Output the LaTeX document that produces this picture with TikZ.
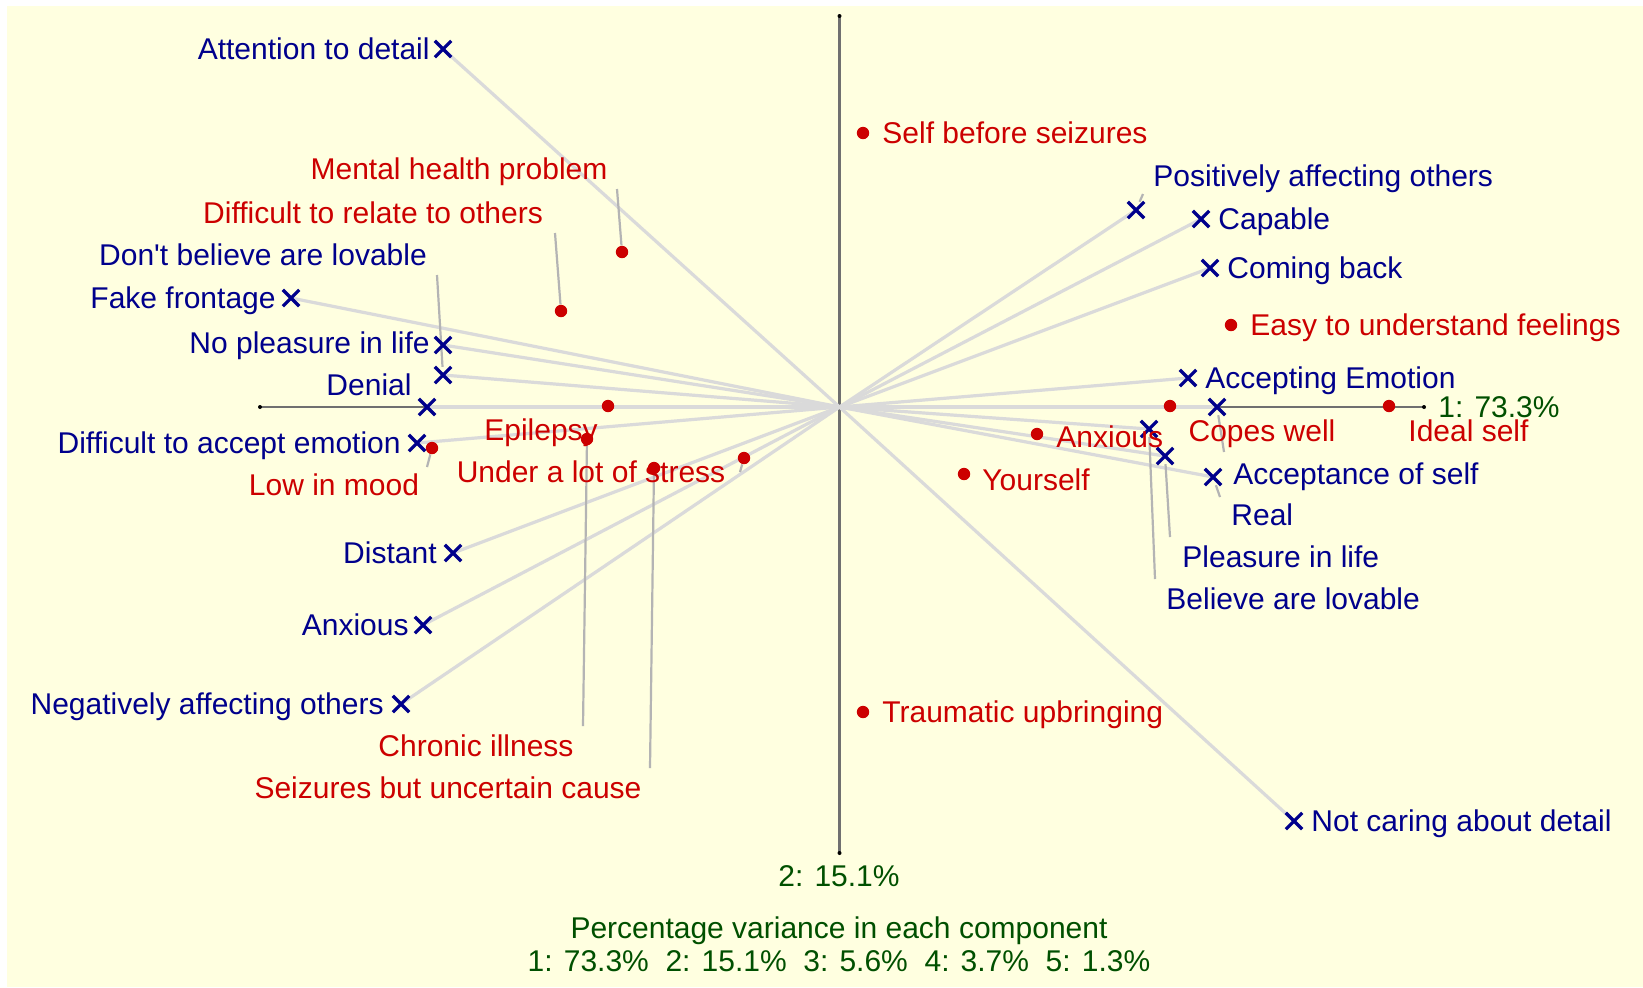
\documentclass[tikz,border=0pt]{standalone}
\usepackage{fontspec}
\setmainfont{Liberation Sans}[Ligatures={TeXOff,NoCommon}]
\usetikzlibrary{shapes.misc,backgrounds}

\definecolor{bgyellow}{RGB}{255,255,224}
\definecolor{conblue}{RGB}{0,0,140}
\definecolor{elred}{RGB}{204,0,0}
\definecolor{axgreen}{RGB}{0,80,0}
\definecolor{raygray}{RGB}{218,218,218}
\definecolor{leadgray}{RGB}{180,180,180}
\definecolor{axisgray}{RGB}{112,112,112}

\newcommand\lblfont{\fontsize{15}{18}\selectfont}

\tikzset{
  xmark/.style={cross out, draw=conblue, line width=1.6pt, minimum size=6.6pt, inner sep=0pt},
  dotmark/.style={circle, fill=elred, minimum size=6.2pt, inner sep=0pt},
  textbase/.style={inner sep=0pt, font=\lblfont, yshift=-2.8pt},
  conlabel/.style={textbase, text=conblue},
  ellabel/.style={textbase, text=elred},
  pctlabel/.style={textbase, text=axgreen},
  ray/.style={draw=raygray, line width=1.6pt},
  leader/.style={draw=leadgray, line width=1.1pt},
  axisline/.style={draw=axisgray, line width=1.3pt},
  axisend/.style={circle, fill=black, minimum size=2pt, inner sep=0pt},
}

\begin{document}
\begin{tikzpicture}[x=0.5pt, y=-0.5pt]
\useasboundingbox (0,0) rectangle (1643,987);

% origin and axis ends
\coordinate (O) at (839.5,407);
\node[axisend] (vtop) at (839.5,16) {};
\node[axisend] (vbot) at (839.5,853) {};
\node[axisend] (hleft) at (260,407) {};
\node[axisend] (hright) at (1424,407) {};

% constructs
\node[xmark] (attn) at (443,49) {};
\node[xmark] (fake) at (291,298) {};
\node[xmark] (nopl) at (443,345) {};
\node[xmark] (dbal) at (443,375) {};
\node[xmark] (deni) at (427,407) {};
\node[xmark] (dace) at (417,443) {};
\node[xmark] (dist) at (453,553) {};
\node[xmark] (anxc) at (423,625) {};
\node[xmark] (nego) at (401,704) {};
\node[xmark] (posi) at (1136,210) {};
\node[xmark] (capa) at (1201,219) {};
\node[xmark] (comb) at (1210,268) {};
\node[xmark] (acem) at (1188,378) {};
\node[xmark] (acse) at (1217,407) {};
\node[xmark] (real) at (1213,477) {};
\node[xmark] (bral) at (1149,429) {};
\node[xmark] (plif) at (1165,456) {};
\node[xmark] (ncad) at (1294,821) {};

% elements
\node[dotmark] (sbs) at (863,133) {};
\node[dotmark] (mhp) at (622,252) {};
\node[dotmark] (drel) at (561,311) {};
\node[dotmark] (eauf) at (1231,325) {};
\node[dotmark] (epil) at (608,406) {};
\node[dotmark] (chil) at (587,439) {};
\node[dotmark] (sbuc) at (654,468) {};
\node[dotmark] (ustr) at (744,458) {};
\node[dotmark] (lmood) at (432,448) {};
\node[dotmark] (copes) at (1170,406) {};
\node[dotmark] (ideal) at (1389,406) {};
\node[dotmark] (anxe) at (1037,434) {};
\node[dotmark] (yours) at (964,474) {};
\node[dotmark] (traum) at (863,712) {};

% free ends of the leader lines
\coordinate (dbalL) at (437,275);
\coordinate (posiL) at (1143,194);
\coordinate (acseL) at (1224,452);
\coordinate (realL) at (1220,497);
\coordinate (bralL) at (1155,579);
\coordinate (plifL) at (1170,537);
\coordinate (mhpL) at (617,189);
\coordinate (drelL) at (555,233);
\coordinate (chilL) at (583,726);
\coordinate (sbucL) at (650,768);
\coordinate (ustrL) at (740,472);
\coordinate (lmoodL) at (427,467);

% background, axes, construct rays and leaders
\begin{scope}[on background layer]
  \fill[bgyellow] (7,6) rectangle (1643,987);
  \draw[axisline] (vtop.center) -- (vbot.center);
  \draw[axisline] (hleft.center) -- (hright.center);
  \foreach \n in {attn,fake,nopl,dbal,deni,dace,dist,anxc,nego,posi,capa,comb,acem,acse,real,bral,plif,ncad}
    \draw[ray] (O) -- (\n.center);
  \draw[leader] (dbal) -- (dbalL);
  \draw[leader] (posi) -- (posiL);
  \draw[leader] (acse) -- (acseL);
  \draw[leader] (real) -- (realL);
  \draw[leader] (bral) -- (bralL);
  \draw[leader] (plif) -- (plifL);
  \draw[leader] (mhp) -- (mhpL);
  \draw[leader] (drel) -- (drelL);
  \draw[leader] (chil) -- (chilL);
  \draw[leader] (sbuc) -- (sbucL);
  \draw[leader] (ustr) -- (ustrL);
  \draw[leader] (lmood) -- (lmoodL);
\end{scope}

% construct labels
\node[conlabel, anchor=mid east] (attnT) at (430,49) {Attention to detail};
\node[conlabel, anchor=mid east] (fakeT) at (276,298) {Fake frontage};
\node[conlabel, anchor=mid east] (noplT) at (430,343) {No pleasure in life};
\node[conlabel, anchor=mid] (dbalT) at (263,255) {Don't believe are lovable};
\node[conlabel, anchor=mid] (deniT) at (369,385) {Denial};
\node[conlabel, anchor=mid east] (daceT) at (401,443) {Difficult to accept emotion};
\node[conlabel, anchor=mid east] (distT) at (437,553) {Distant};
\node[conlabel, anchor=mid east] (anxcT) at (409,625) {Anxious};
\node[conlabel, anchor=mid east] (negoT) at (384,704) {Negatively affecting others};
\node[conlabel, anchor=mid west] (posiT) at (1153,176) {Positively affecting others};
\node[conlabel, anchor=mid west] (capaT) at (1218,219) {Capable};
\node[conlabel, anchor=mid west] (combT) at (1227,268) {Coming back};
\node[conlabel, anchor=mid west] (acemT) at (1205,378) {Accepting Emotion};
\node[conlabel, anchor=mid west] (acseT) at (1233,474) {Acceptance of self};
\node[conlabel, anchor=mid west] (realT) at (1231,515) {Real};
\node[conlabel, anchor=mid west] (plifT) at (1182,557) {Pleasure in life};
\node[conlabel, anchor=mid west] (bralT) at (1166,599) {Believe are lovable};
\node[conlabel, anchor=mid west] (ncadT) at (1311,821) {Not caring about detail};

% element labels
\node[ellabel, anchor=mid west] (sbsT) at (882,133) {Self before seizures};
\node[ellabel, anchor=mid] (mhpT) at (459,169) {Mental health problem};
\node[ellabel, anchor=mid] (drelT) at (373,213) {Difficult to relate to others};
\node[ellabel, anchor=mid west] (eaufT) at (1250,325) {Easy to understand feelings};
\node[ellabel, anchor=mid] (epilT) at (541,430) {Epilepsy};
\node[ellabel, anchor=mid] (chilT) at (476,746) {Chronic illness};
\node[ellabel, anchor=mid] (sbucT) at (448,788) {Seizures but uncertain cause};
\node[ellabel, anchor=mid] (ustrT) at (591,472) {Under a lot of stress};
\node[ellabel, anchor=mid] (lmoodT) at (334,485) {Low in mood};
\node[ellabel, anchor=mid] (copesT) at (1262,431) {Copes well};
\node[ellabel, anchor=mid west] (idealT) at (1408,431) {Ideal self};
\node[ellabel, anchor=mid west] (anxeT) at (1056,437) {Anxious};
\node[ellabel, anchor=mid west] (yoursT) at (982,480) {Yourself};
\node[ellabel, anchor=mid west] (traumT) at (882,712) {Traumatic upbringing};

% component variance labels
\node[pctlabel, anchor=mid west] (pc1) at (1438,407) {1: 73.3\%};
\node[pctlabel, anchor=mid] (pc2) at (839,876) {2: 15.1\%};
\node[pctlabel, anchor=mid] (pvT) at (839,928) {Percentage variance in each component};
\node[pctlabel, anchor=mid] (pvV) at (839,961) {1: 73.3\%\ \ 2: 15.1\%\ \ 3: 5.6\%\ \ 4: 3.7\%\ \ 5: 1.3\%};
\end{tikzpicture}
\end{document}
